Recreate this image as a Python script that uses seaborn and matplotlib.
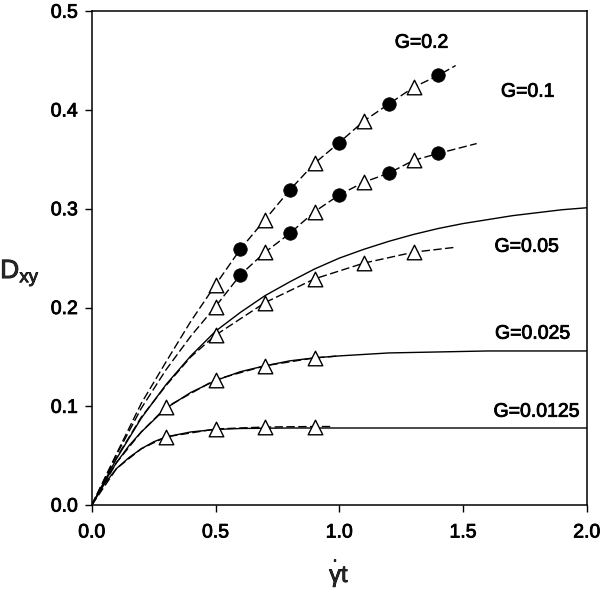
import matplotlib
matplotlib.use("Agg")
import matplotlib.pyplot as plt
import matplotlib.patheffects as pe
import seaborn as sns
import numpy as np

sns.set_style("ticks")
plt.rcParams['font.family'] = ['Liberation Sans', 'DejaVu Sans']
plt.rcParams['mathtext.fontset'] = 'custom'
plt.rcParams['mathtext.rm'] = 'Liberation Sans'
plt.rcParams['mathtext.it'] = 'Liberation Sans'
plt.rcParams['mathtext.sf'] = 'Liberation Sans'

# ---- theory curves (solid) ----
th05_x = [0, 0.1, 0.2, 0.3, 0.4, 0.5, 0.6, 0.7, 0.8, 0.9, 1.0, 1.1, 1.2, 1.3, 1.4, 1.5, 1.6, 1.7, 1.8, 1.9, 2.0]
th05_y = [0, 0.047, 0.088, 0.122, 0.151, 0.176, 0.195, 0.212, 0.226, 0.239, 0.250, 0.259, 0.267, 0.274, 0.280, 0.285, 0.289, 0.293, 0.296, 0.299, 0.301]
th025_x = [0, 0.05, 0.1, 0.15, 0.2, 0.3, 0.4, 0.5, 0.6, 0.7, 0.8, 0.9, 1.0, 1.2, 1.4, 1.6, 1.8, 2.0]
th025_y = [0, 0.023, 0.043, 0.060, 0.074, 0.098, 0.114, 0.126, 0.135, 0.141, 0.146, 0.149, 0.151, 0.154, 0.155, 0.156, 0.156, 0.156]
th0125_x = [0, 0.05, 0.1, 0.15, 0.2, 0.25, 0.3, 0.4, 0.5, 0.6, 0.8, 1.0, 1.5, 2.0]
th0125_y = [0, 0.021, 0.037, 0.048, 0.057, 0.064, 0.069, 0.074, 0.0765, 0.0775, 0.078, 0.078, 0.078, 0.078]

# ---- simulation curves (dashed) ----
d2_x = [0, 0.1, 0.2, 0.3, 0.4, 0.5, 0.6, 0.7, 0.8, 0.9, 1.0, 1.1, 1.2, 1.3, 1.4, 1.47]
d2_y = [0, 0.052, 0.103, 0.145, 0.186, 0.223, 0.259, 0.289, 0.319, 0.346, 0.367, 0.389, 0.406, 0.423, 0.435, 0.445]
d1_x = [0, 0.1, 0.2, 0.3, 0.4, 0.5, 0.6, 0.7, 0.8, 0.9, 1.0, 1.1, 1.2, 1.3, 1.4, 1.555]
d1_y = [0, 0.051, 0.098, 0.137, 0.171, 0.201, 0.233, 0.256, 0.275, 0.297, 0.314, 0.327, 0.336, 0.349, 0.356, 0.366]
d05_x = [0, 0.1, 0.2, 0.3, 0.4, 0.5, 0.7, 0.9, 1.1, 1.3, 1.47]
d05_y = [0, 0.048, 0.089, 0.121, 0.150, 0.172, 0.205, 0.229, 0.245, 0.256, 0.261]
d025_x = [0, 0.1, 0.2, 0.3, 0.5, 0.7, 0.9, 1.0]
d025_y = [0, 0.043, 0.074, 0.099, 0.127, 0.141, 0.149, 0.151]
d0125_x = [0, 0.1, 0.2, 0.3, 0.5, 0.7, 0.9, 0.97]
d0125_y = [0, 0.037, 0.057, 0.069, 0.077, 0.079, 0.0795, 0.0795]

# ---- markers ----
tri_x = {
    "0.2": [0.5, 0.7, 0.9, 1.1, 1.3],
    "0.1": [0.5, 0.7, 0.9, 1.1, 1.3],
    "0.05": [0.5, 0.7, 0.9, 1.1, 1.3],
    "0.025": [0.3, 0.5, 0.7, 0.9],
    "0.0125": [0.3, 0.5, 0.7, 0.9],
}
tri_y = {
    "0.2": [0.223, 0.289, 0.346, 0.389, 0.423],
    "0.1": [0.201, 0.256, 0.297, 0.327, 0.349],
    "0.05": [0.172, 0.205, 0.229, 0.245, 0.256],
    "0.025": [0.099, 0.127, 0.141, 0.149],
    "0.0125": [0.069, 0.077, 0.079, 0.0795],
}
circ_x = {
    "0.2": [0.6, 0.8, 1.0, 1.2, 1.4],
    "0.1": [0.6, 0.8, 1.0, 1.2, 1.4],
}
circ_y = {
    "0.2": [0.259, 0.319, 0.367, 0.406, 0.435],
    "0.1": [0.233, 0.275, 0.314, 0.336, 0.356],
}

labels = ["G=0.2", "G=0.1", "G=0.05", "G=0.025", "G=0.0125"]
label_x = [1.333, 1.762, 1.758, 1.782, 1.798]
label_y = [0.4676, 0.418, 0.261, 0.173, 0.094]

thick = [pe.Stroke(linewidth=0.6, foreground='black'), pe.Normal()]

fig = plt.figure(figsize=(6.0, 5.9), dpi=100)
ax = fig.add_axes([0.153, 0.144, 0.825, 0.837])

dash = (0, (6, 2.5))
for xs, ys in [(th05_x, th05_y), (th025_x, th025_y), (th0125_x, th0125_y)]:
    sns.lineplot(x=xs, y=ys, ax=ax, color='black', lw=1.0, estimator=None, sort=False)
for xs, ys in [(d2_x, d2_y), (d1_x, d1_y), (d05_x, d05_y), (d025_x, d025_y), (d0125_x, d0125_y)]:
    sns.lineplot(x=xs, y=ys, ax=ax, color='black', lw=1.0, estimator=None, sort=False,
                 linestyle=dash)

for k in tri_x:
    sns.scatterplot(x=tri_x[k], y=tri_y[k], ax=ax, marker='^', s=110, facecolor='white',
                    edgecolor='black', linewidth=1.0, zorder=5)
for k in circ_x:
    sns.scatterplot(x=circ_x[k], y=circ_y[k], ax=ax, marker='o', s=95, color='black',
                    edgecolor='black', linewidth=0.5, zorder=6)

for t, lx, ly in zip(labels, label_x, label_y):
    ax.text(lx, ly, t, ha='center', va='center', fontsize=14, color='black', path_effects=thick)

ax.set_xlim(0, 2.0)
ax.set_ylim(0, 0.5)
ax.set_xticks([0.0, 0.5, 1.0, 1.5, 2.0])
ax.set_xticklabels(["0.0", "0.5", "1.0", "1.5", "2.0"])
ax.set_yticks([0.0, 0.1, 0.2, 0.3, 0.4, 0.5])
ax.set_yticklabels(["0.0", "0.1", "0.2", "0.3", "0.4", "0.5"])
ax.tick_params(axis='both', direction='out', length=5, width=1.0, labelsize=14, colors='black')
ax.tick_params(axis='x', pad=9)
ax.tick_params(axis='y', pad=5)
for lab in ax.get_xticklabels() + ax.get_yticklabels():
    lab.set_path_effects(thick)
for sp in ax.spines.values():
    sp.set_visible(True)
    sp.set_linewidth(1.1)
    sp.set_color('black')

ax.set_xlabel(r"$\overset{\bullet}{\gamma}\mathrm{t}$", fontsize=17, va='baseline', path_effects=thick)
ax.xaxis.set_label_coords(0.5, -0.156)
ax.set_ylabel(r"$\mathrm{D}_{\mathrm{xy}}$", fontsize=19, rotation=0, ha='center', va='center',
              path_effects=thick)
ax.yaxis.set_label_coords(-0.145, 0.47)

fig.savefig("out.png", dpi=100)
